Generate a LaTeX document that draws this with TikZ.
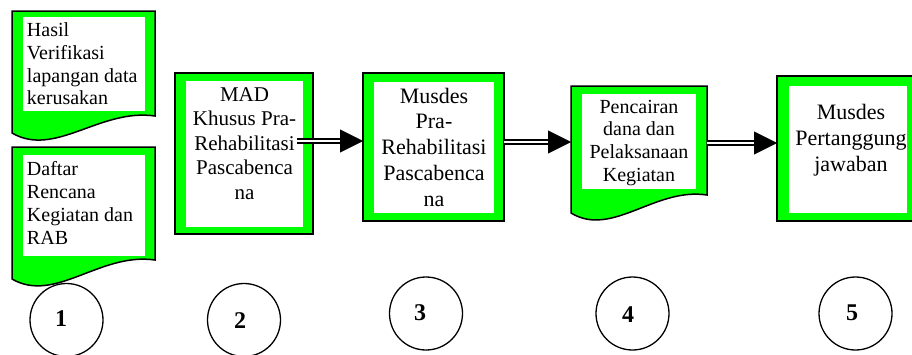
\documentclass[tikz,border=0pt]{standalone}
\usepackage{fontspec}
\setmainfont{Liberation Serif}
\usetikzlibrary{arrows.meta}
\definecolor{brightgreen}{RGB}{0,255,0}
\tikzset{
  outerbox/.style={draw=black, line width=1.5pt, fill=brightgreen, inner sep=0pt, outer sep=0pt},
  innerbox/.style={fill=white, inner sep=0pt, outer sep=0pt},
  docshape/.style={draw=black, line width=1.5pt, fill=brightgreen},
  ghost/.style={inner sep=0pt, outer sep=0pt},
  numcircle/.style={circle, draw=black, line width=1.3pt, fill=white, minimum size=73pt, inner sep=0pt},
  numtext/.style={font=\bfseries\fontsize{24}{28}\selectfont, inner sep=0pt},
  shaft/.style={draw=black, double=white, double distance=2pt, line width=2pt, shorten >=21pt},
  tip/.style={draw=black, line width=0.4pt, -{Triangle[length=23pt,width=23pt]}},
}
\begin{document}
\begin{tikzpicture}[x=1pt,y=-1pt]
\useasboundingbox (0,0) rectangle (912,354);
\fill[white] (0,0) rectangle (912,354);
\clip (0,0) rectangle (912,354);

% Document 1
\draw[docshape] (12,11) -- (155,11) -- (155,116) .. controls (100,108) and (55,158) .. (12,133) -- cycle;
\node[innerbox, minimum width=122pt, minimum height=94pt] (d1) at (84,64) {};
\node[ghost, anchor=base west, align=left, font=\fontsize{20}{22.8}\selectfont] (t1) at (27,104.9)
  {Hasil\\Verifikasi\\lapangan data\\kerusakan};

% Document 2
\draw[docshape] (12,147) -- (155,147) -- (155,260) .. controls (100,252) and (55,304) .. (12,279) -- cycle;
\node[innerbox, minimum width=122pt, minimum height=101pt] (d2) at (84,205.5) {};
\node[ghost, anchor=base west, align=left, font=\fontsize{20}{23}\selectfont] (t1b) at (27,244)
  {Daftar\\Rencana\\Kegiatan dan\\RAB};

% Box 2
\node[outerbox, minimum width=138pt, minimum height=161pt] (b2) at (244,153.5) {};
\node[innerbox, minimum width=117pt, minimum height=146pt] (b2i) at (244.5,154) {};
\node[ghost, anchor=base, align=center, font=\fontsize{21}{24.5}\selectfont] (t2) at (244.5,199.2)
  {MAD\\Khusus Pra-\\Rehabilitasi\\Pascabenca\\na};

% Box 3
\node[outerbox, minimum width=141pt, minimum height=148pt] (b3) at (433.5,147) {};
\node[innerbox, minimum width=120pt, minimum height=131pt] (b3i) at (434,147.5) {};
\node[ghost, anchor=base, align=center, font=\fontsize{22}{25.8}\selectfont] (t3) at (434,206.2)
  {Musdes\\Pra-\\Rehabilitasi\\Pascabenca\\na};

% Document 4
\node[ghost, minimum width=136pt, minimum height=109pt] (d4) at (639,140.5) {};
\draw[docshape] (d4.north west) -- (d4.north east) -- (707,195) .. controls (655,187) and (612,238) .. (571,213) -- cycle;
\node[innerbox, minimum width=114pt, minimum height=95pt] (d4i) at (639,141.5) {};
\node[ghost, anchor=base, align=center, font=\fontsize{20}{22.8}\selectfont] (t4) at (639,181.4)
  {Pencairan\\dana dan\\Pelaksanaan\\Kegiatan};

% Box 5
\node[outerbox, minimum width=141pt, minimum height=145pt] (b5) at (847.5,148.5) {};
\node[innerbox, minimum width=118pt, minimum height=127pt] (b5i) at (848,149.5) {};
\node[ghost, anchor=base, align=center, font=\fontsize{22}{26}\selectfont] (t5) at (851,171.6)
  {Musdes\\Pertanggung\\jawaban};

% Arrows
\coordinate (a1) at (297,141);
\coordinate (a2) at (0,142);
\coordinate (a3) at (0,143);
\draw[shaft] (a1) -- (a1 -| b3.west);
\draw[tip] ([xshift=-22pt]a1 -| b3.west) -- (a1 -| b3.west);
\draw[shaft] (b3.east |- a2) -- (d4.west |- a2);
\draw[tip] ([xshift=-22pt]d4.west |- a2) -- (d4.west |- a2);
\draw[shaft] (d4.east |- a3) -- (b5.west |- a3);
\draw[tip] ([xshift=-22pt]b5.west |- a3) -- (b5.west |- a3);

% Number circles
\node[numcircle] (c1) at (66.5,320) {};
\node[numtext] (n1) at (61,319) {1};
\node[numcircle] (c2) at (244,320) {};
\node[numtext] (n2) at (240,321) {2};
\node[numcircle] (c3) at (426,313.5) {};
\node[numtext] (n3) at (420,313) {3};
\node[numcircle] (c4) at (632.5,313.5) {};
\node[numtext] (n4) at (628,315) {4};
\node[numcircle] (c5) at (855.5,313.5) {};
\node[numtext] (n5) at (852,313) {5};
\end{tikzpicture}
\end{document}
